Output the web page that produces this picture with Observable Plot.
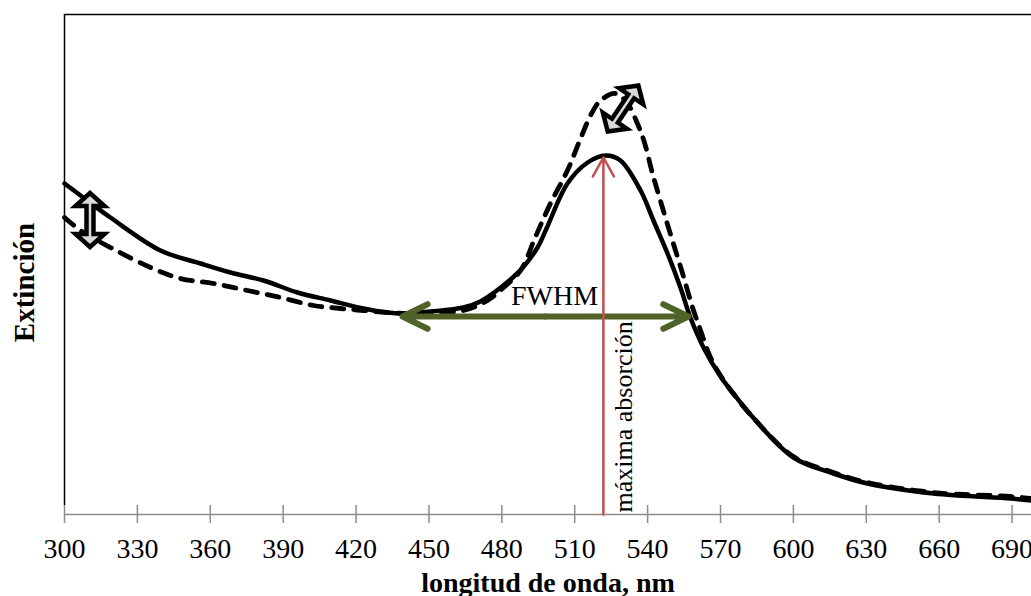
<!DOCTYPE html>
<html>
<head>
<meta charset="utf-8">
<script src="https://cdn.jsdelivr.net/npm/d3@7"></script>
<script src="https://cdn.jsdelivr.net/npm/@observablehq/plot@0.6"></script>
<style>
  html, body { margin: 0; padding: 0; background: #fff; overflow: hidden; }
</style>
</head>
<body>
<div id="chart"></div>
<script>
// ---- data ----
const wavelengthSolid = [300.0, 306.6, 318.9, 339.5, 356.0, 368.3, 381.9, 395.9, 409.5, 423.0, 432.9, 439.5, 450.6, 464.2, 471.2, 477.4, 483.6, 489.0, 494.7, 498.4, 507.0, 515.3, 522.7, 528.8, 537.1, 542.4, 548.2, 553.5, 557.6, 563.0, 570.0, 575.3, 582.3, 600.0, 616.5, 630.5, 657.7, 689.4, 698.0];
const extinctionSolid = [0.662, 0.638, 0.594, 0.528, 0.502, 0.484, 0.468, 0.444, 0.428, 0.412, 0.404, 0.402, 0.406, 0.414, 0.426, 0.446, 0.470, 0.496, 0.534, 0.572, 0.662, 0.704, 0.718, 0.708, 0.648, 0.588, 0.522, 0.454, 0.394, 0.334, 0.276, 0.242, 0.200, 0.114, 0.082, 0.062, 0.042, 0.032, 0.028];

const wavelengthDashed = [300.0, 306.6, 318.9, 335.4, 347.7, 361.3, 375.3, 388.9, 402.5, 413.6, 423.1, 432.9, 442.4, 452.7, 464.2, 474.1, 480.7, 487.7, 493.9, 500.0, 507.0, 512.4, 516.5, 520.6, 526.8, 531.7, 535.8, 538.7, 542.0, 546.1, 550.2, 554.4, 558.5, 561.8, 565.9, 570.8, 582.3, 600.0, 616.5, 630.5, 657.7, 689.4, 698.0];
const extinctionDashed = [0.594, 0.568, 0.534, 0.494, 0.472, 0.462, 0.448, 0.434, 0.418, 0.412, 0.408, 0.404, 0.402, 0.404, 0.408, 0.428, 0.454, 0.488, 0.556, 0.622, 0.688, 0.752, 0.798, 0.828, 0.842, 0.822, 0.782, 0.744, 0.682, 0.614, 0.548, 0.482, 0.414, 0.368, 0.314, 0.272, 0.200, 0.116, 0.084, 0.064, 0.044, 0.036, 0.032];

const xTicks = [300, 330, 360, 390, 420, 450, 480, 510, 540, 570, 600, 630, 660, 690];
const xDomain = [300, 698];

// annotations
const peakWavelength = 521.8;      // máxima absorción
const peakExtinction = 0.714;
const fwhmLeft = 439.1, fwhmRight = 556.8, fwhmLevel = 0.396;
const blockArrowFromW = [310.7, 523.1];
const blockArrowFromE = [0.528, 0.760];
const blockArrowToW = [310.7, 537.1];
const blockArrowToE = [0.648, 0.862];

const xLabel = "longitud de onda, nm";
const yLabel = "Extinción";
const fwhmText = "FWHM";
const maxText = "máxima absorción";

// ---- tables built from the arrays ----
const solid = wavelengthSolid.map((w, i) => ({w, e: extinctionSolid[i]}));
const dashed = wavelengthDashed.map((w, i) => ({w, e: extinctionDashed[i]}));
const fwhmMid = (fwhmLeft + fwhmRight) / 2;
const fwhmArrows = [
  {x1: fwhmMid, x2: fwhmLeft, y: fwhmLevel},
  {x1: fwhmMid, x2: fwhmRight, y: fwhmLevel}
];
const blockArrows = blockArrowFromW.map((w, i) => ({
  w1: w, e1: blockArrowFromE[i], w2: blockArrowToW[i], e2: blockArrowToE[i]
}));

const SERIF = "'Liberation Serif', 'Times New Roman', Times, serif";
const NS = "http://www.w3.org/2000/svg";

function blockArrowMark(index, scales) {
  const g = document.createElementNS(NS, "g");
  for (const a of blockArrows) {
    const x1 = scales.x(a.w1), y1 = scales.y(a.e1);
    const x2 = scales.x(a.w2), y2 = scales.y(a.e2);
    const L = Math.hypot(x2 - x1, y2 - y1);
    const ux = (x2 - x1) / L, uy = (y2 - y1) / L;
    const nx = -uy, ny = ux;
    const hl = 13, hw = 14.5, sw = 3.5, inset = 3;
    const p = (t, s) => [x1 + ux * t + nx * s, y1 + uy * t + ny * s];
    const t0 = inset, t1 = L - inset;
    const pts = [p(t0, 0), p(t0 + hl, hw), p(t0 + hl, sw), p(t1 - hl, sw), p(t1 - hl, hw),
                 p(t1, 0), p(t1 - hl, -hw), p(t1 - hl, -sw), p(t0 + hl, -sw), p(t0 + hl, -hw)];
    const poly = document.createElementNS(NS, "polygon");
    poly.setAttribute("points", pts.map(q => q.join(",")).join(" "));
    poly.setAttribute("fill", "#d9d9d9");
    poly.setAttribute("stroke", "#000");
    poly.setAttribute("stroke-width", "4.5");
    poly.setAttribute("stroke-linejoin", "miter");
    poly.setAttribute("stroke-miterlimit", "10");
    g.appendChild(poly);
  }
  return g;
}

const chart = Plot.plot({
  width: 1031,
  height: 596,
  marginLeft: 64,
  marginRight: 0,
  marginTop: 14,
  marginBottom: 82,
  style: {fontFamily: SERIF, fontSize: "28px", background: "#fff", color: "#000"},
  x: {domain: xDomain},
  y: {domain: [0, 1], axis: null},
  marks: [
    // frame: top border and left axis line
    Plot.ruleY([1], {stroke: "#000", strokeWidth: 1.5}),
    Plot.ruleX([xDomain[0]], {y1: 0.018, y2: 1, stroke: "#000", strokeWidth: 1.5}),
    // x axis line and crossing ticks
    Plot.ruleY([0], {stroke: "#8c8c8c", strokeWidth: 1.5}),
    Plot.ruleX(xTicks, {x: d => d, y1: 0, y2: 0, insetTop: -9, insetBottom: -9, stroke: "#8c8c8c", strokeWidth: 1.5}),
    Plot.axisX({ticks: xTicks, tickSize: 0, tickPadding: 24, label: null, fontSize: 28, fontFamily: SERIF, fill: "#000"}),
    // curves
    Plot.line(dashed, {x: "w", y: "e", stroke: "#000", strokeWidth: 4.8, strokeDasharray: "12,10", curve: "catmull-rom"}),
    Plot.line(solid, {x: "w", y: "e", stroke: "#000", strokeWidth: 4.5, curve: "catmull-rom"}),
    // FWHM double arrow
    Plot.arrow(fwhmArrows, {x1: "x1", x2: "x2", y1: "y", y2: "y", stroke: "#4f6228", strokeWidth: 6, headLength: 7, headAngle: 52}),
    // maximum absorption arrow
    Plot.arrow([0], {x1: peakWavelength, x2: peakWavelength, y1: 0, y2: peakExtinction, stroke: "#c0504d", strokeWidth: 2.5, headLength: 13, headAngle: 58}),
    // texts
    Plot.text([fwhmText], {x: 501.7, y: 0.436, text: d => d, fontSize: 28, fontFamily: SERIF, fill: "#000"}),
    Plot.text([maxText], {x: 530, y: 0.004, text: d => d, rotate: -90, textAnchor: "start", fontSize: 26, fontFamily: SERIF, fill: "#000"}),
    Plot.text([yLabel], {frameAnchor: "left", textAnchor: "middle", lineAnchor: "middle", dx: -40, dy: 18, rotate: -90, text: d => d, fontSize: 29, fontWeight: "bold", fontFamily: SERIF, fill: "#000"}),
    Plot.text([xLabel], {frameAnchor: "bottom", textAnchor: "middle", lineAnchor: "middle", dy: 69, text: d => d, fontSize: 28, fontWeight: "bold", fontFamily: SERIF, fill: "#000"}),
    // block double arrows
    blockArrowMark
  ]
});

document.getElementById("chart").appendChild(chart);
</script>
</body>
</html>
